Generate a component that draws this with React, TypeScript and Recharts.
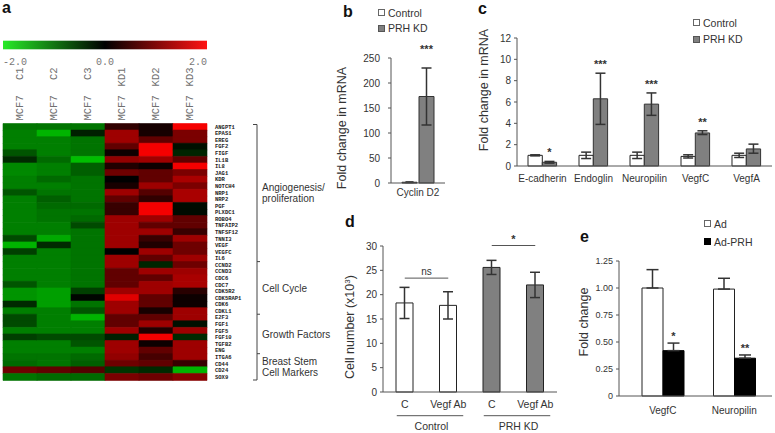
import React from "react";
import {
  Bar,
  BarChart,
  Cell,
  ErrorBar,
  LabelList,
  Legend,
  ReferenceLine,
  XAxis,
  YAxis,
} from "recharts";

const SANS = "'Liberation Sans', Arial, Helvetica, sans-serif";
const MONO = "'Liberation Mono', 'DejaVu Sans Mono', monospace";
const INK = "#333";
const AXIS = "#555";
const GREY_BAR = "#808080";

// ---------- a: microarray heat map ----------
const heatSamples = ["MCF7 C1", "MCF7 C2", "MCF7 C3", "MCF7 KD1", "MCF7 KD2", "MCF7 KD3"];
const heatGenes = [
  "ANGPT1", "EPAS1", "EREG", "FGF2", "FIGF", "IL1B", "IL8", "JAG1", "KDR", "NOTCH4",
  "NRP1", "NRP2", "PGF", "PLXDC1", "ROBO4", "TNFAIP2", "TNFSF12", "TNNI3", "VEGF", "VEGFC",
  "IL6", "CCND2", "CCND3", "CDC6", "CDC7", "CDK5R2", "CDK5RAP1", "CDK6", "CDKL1", "E2F3",
  "FGF1", "FGF5", "FGF10", "TGFB2", "ENG", "ITGA6", "CD44", "CD24", "SOX9",
];
// log2 ratios, rows follow heatGenes, columns follow heatSamples
const heatValues = [
  [-1.1, -1.1, -1.1, 0.25, 0.1, 1.9],
  [-1.2, -1.7, -0.3, 1.1, 0.1, 0.8],
  [-1.2, -1.2, -1.1, 1.1, 0.6, 0.8],
  [-1.2, -1.2, -1.1, 0.6, 1.9, -0.15],
  [-0.8, -1.2, -1.1, 0.05, 1.9, -0.35],
  [-0.4, -1.0, -1.8, 1.0, 1.1, 0.6],
  [-1.3, -1.2, -0.9, 0.15, 0.05, 1.9],
  [-1.3, -1.2, -0.9, 0.7, 0.6, 0.8],
  [-1.2, -1.0, -1.1, 0.0, 0.6, 1.2],
  [-1.2, -1.2, -1.1, 0.1, 1.1, 0.8],
  [-0.8, -1.1, -1.1, 1.1, 0.5, 1.2],
  [-1.2, -0.9, -1.1, 0.6, 0.25, 1.2],
  [-1.2, -1.0, -1.0, 0.3, 1.9, -0.1],
  [-1.2, -1.1, -1.1, 0.3, 1.9, -0.1],
  [-1.2, -1.1, -1.0, 1.1, 1.1, 0.6],
  [-1.2, -1.2, -0.7, 1.1, 0.6, 0.6],
  [-1.2, -1.2, -1.1, 1.1, 1.1, 0.3],
  [-0.7, -1.6, -1.1, 1.1, 0.3, 1.1],
  [-1.7, -0.4, -1.1, 1.1, 0.15, 0.7],
  [-0.6, -1.2, -1.1, 0.0, 1.1, 0.7],
  [-1.2, -1.2, -1.1, 1.1, 0.6, 1.1],
  [-1.2, -1.2, -1.1, 1.1, -0.35, 0.7],
  [-1.2, -1.2, -1.1, 0.6, 1.1, 1.1],
  [-1.2, -1.2, -1.1, 0.6, 0.6, 1.2],
  [-0.8, -1.2, -1.1, 0.6, 1.1, 1.2],
  [-1.4, -1.5, -0.6, 1.1, 1.1, 0.2],
  [-1.4, -1.5, -0.05, 1.7, 0.6, 0.05],
  [-0.4, -1.5, -1.1, 1.1, 0.6, 0.05],
  [-1.2, -1.2, -0.8, 1.1, 0.1, 1.1],
  [-0.7, -1.2, -1.7, 0.6, 0.6, 1.1],
  [-0.7, -1.2, -1.2, 0.6, 1.1, -0.15],
  [-1.2, -1.2, -1.2, 1.1, 0.15, 1.1],
  [-0.6, -0.7, -0.7, -0.3, 1.9, -0.4],
  [-1.2, -1.2, -0.8, 1.1, 0.05, 1.1],
  [-1.2, -1.2, -1.2, 1.1, 0.6, 1.1],
  [-1.1, -1.1, -1.0, 1.0, 0.4, 1.1],
  [-1.0, -1.1, -0.9, 0.7, 0.6, 0.3],
  [0.7, 0.6, 0.5, -0.5, -0.4, -1.7],
  [-1.1, -1.0, -1.0, 0.8, 0.7, 0.9],
];
const geneGroups = [
  { label: ["Angiogenesis/", "proliferation"], rows: 21 },
  { label: ["Cell Cycle"], rows: 8 },
  { label: ["Growth Factors"], rows: 6 },
  { label: ["Breast Stem", "Cell Markers"], rows: 4 },
];
const scaleTicks = [-2, 0, 2];

// ---------- b: Cyclin D2 ----------
const bCategories = ["Cyclin D2"];
const bControl = [1.5];
const bControlErr = [0.6];
const bKd = [173];
const bKdErr = [57];
const bStars = ["***"];
const bTicks = [0, 50, 100, 150, 200, 250];

// ---------- c: angiogenesis genes ----------
const cCategories = ["E-cadherin", "Endoglin", "Neuropilin", "VegfC", "VegfA"];
const cControl = [1.0, 1.0, 1.0, 0.9, 1.0];
const cControlErr = [0.05, 0.3, 0.3, 0.15, 0.2];
const cKd = [0.35, 6.3, 5.8, 3.1, 1.6];
const cKdErrLow = [0.08, 2.4, 1.05, 0.15, 0.4];
const cKdErrHigh = [0.08, 2.4, 1.05, 0.2, 0.45];
const cStars = ["*", "***", "***", "**", ""];
const cTicks = [0, 2, 4, 6, 8, 10, 12];

// ---------- d: cell number ----------
const dKeys = ["ctrl-c", "ctrl-v", "kd-c", "kd-v"];
const dLabels = ["C", "Vegf Ab", "C", "Vegf Ab"];
const dGroups = ["Control", "Control", "PRH KD", "PRH KD"];
const dValues = [18.3, 17.8, 25.6, 22.0];
const dErr = [3.2, 2.8, 1.45, 2.6];
const dFills = ["#ffffff", "#ffffff", GREY_BAR, GREY_BAR];
const dTicks = [0, 5, 10, 15, 20, 25, 30];
const dBrackets = [
  { from: "ctrl-c", to: "ctrl-v", level: 23.4, text: "ns" },
  { from: "kd-c", to: "kd-v", level: 30.1, text: "*" },
];

// ---------- e: adenovirus ----------
const eCategories = ["VegfC", "Neuropilin"];
const eAd = [1.0, 0.99];
const eAdErr = [0.17, 0.1];
const ePrh = [0.42, 0.35];
const ePrhErr = [0.07, 0.03];
const eStars = ["*", "**"];
const eTicks = [0, 0.25, 0.5, 0.75, 1, 1.25];

const heatColor = (v: number) => {
  const t = Math.min(Math.abs(v) / 2, 1);
  if (v >= 0) return `rgb(${Math.round(255 * Math.pow(t, 0.8))},0,0)`;
  return `rgb(0,${Math.round(235 * t * 0.9)},0)`;
};

const tickStyle = { fontSize: 10, fill: INK, fontFamily: SANS };

// category label on one line, never wrapped
const plainTick = (fontSize: number) => (props: any) => (
  <text
    x={props.x}
    y={props.y}
    dy="0.71em"
    textAnchor="middle"
    fontSize={fontSize}
    fill={INK}
    fontFamily={SANS}
  >
    {props.payload.value}
  </text>
);

type LegendItem = { label: string; fill: string; stroke: string };

const SwatchLegend = ({ items, rowH }: { items: LegendItem[]; rowH: number }) => (
  <div style={{ fontFamily: SANS, fontSize: 10.5, color: INK }}>
    {items.map((it) => (
      <div
        key={it.label}
        style={{ display: "flex", alignItems: "center", height: rowH, whiteSpace: "nowrap" }}
      >
        <span
          style={{
            display: "inline-block",
            width: 5,
            height: 5,
            background: it.fill,
            border: `1px solid ${it.stroke}`,
            marginRight: 3,
          }}
        />
        {it.label}
      </div>
    ))}
  </div>
);

// star above the upper end of the error bar
const starLabel = (values: number[], errs: number[], lift: number) => (props: any) => {
  const { x, y, width, height, index, value } = props;
  if (!value) return null;
  const unit = Number(height) / values[index];
  const errTop = Number(y) - errs[index] * unit;
  return (
    <text
      x={Number(x) + Number(width) / 2}
      y={errTop - lift}
      textAnchor="middle"
      fontSize={11}
      fontWeight={700}
      fill={INK}
      fontFamily={SANS}
    >
      {value}
    </text>
  );
};

// ---------- heat map ----------
const HEAT_W = 260;
const HEAT_H = 400;
const HEAT_M = { top: 63, right: 0, bottom: 20, left: 3 };
const HEAT_XAXIS_H = 60.5;
const HEAT_YAXIS_W = 53;
const heatTop = HEAT_M.top + HEAT_XAXIS_H;
const heatBottom = HEAT_H - HEAT_M.bottom;
const heatLeft = HEAT_M.left;
const heatRight = HEAT_W - HEAT_M.right - HEAT_YAXIS_W;

const SampleTick = (props: any) => {
  const { x, y, payload } = props;
  const name: string = heatSamples[Math.floor(payload.value)];
  const [head, ...rest] = name.split(" ");
  return (
    <g transform={`translate(${x},${y}) rotate(-90)`} fontFamily={MONO} fontSize={10.5} fill="#707070">
      <text x={0} y={0} dominantBaseline="central" textAnchor="start">
        {head}
      </text>
      <text x={53} y={0} dominantBaseline="central" textAnchor="end">
        {rest.join(" ")}
      </text>
    </g>
  );
};

function HeatmapPanel() {
  const data = heatGenes.map((gene) => {
    const row: Record<string, number | string> = { gene };
    heatSamples.forEach((_, j) => {
      row[`s${j}`] = 1;
    });
    return row;
  });
  return (
    <BarChart
      width={HEAT_W}
      height={HEAT_H}
      layout="vertical"
      data={data}
      margin={HEAT_M}
      barCategoryGap={0}
    >
      <XAxis
        type="number"
        orientation="top"
        domain={[0, heatSamples.length]}
        ticks={heatSamples.map((_, j) => j + 0.5)}
        interval={0}
        height={HEAT_XAXIS_H}
        axisLine={false}
        tickLine={false}
        tickSize={0}
        tickMargin={3}
        tick={SampleTick}
      />
      <YAxis
        type="category"
        dataKey="gene"
        orientation="right"
        width={HEAT_YAXIS_W}
        axisLine={false}
        tickLine={false}
        tickSize={6}
        tickMargin={2}
        interval={0}
        tick={{ fontSize: 5.5, fontFamily: MONO, fontWeight: 700, fill: "#222" }}
      />
      {heatSamples.map((s, j) => (
        <Bar key={s} dataKey={`s${j}`} stackId="heat" isAnimationActive={false}>
          {heatGenes.map((g, i) => {
            const fill = heatColor(heatValues[i][j]);
            return <Cell key={g} fill={fill} stroke={fill} strokeWidth={0.6} />;
          })}
        </Bar>
      ))}
    </BarChart>
  );
}

// ---------- b ----------
function PanelB() {
  const data = bCategories.map((name, i) => ({
    name,
    control: bControl[i],
    controlErr: bControlErr[i],
    kd: bKd[i],
    kdErr: bKdErr[i],
    star: bStars[i],
  }));
  return (
    <BarChart
      width={130}
      height={205}
      data={data}
      margin={{ top: 58, right: 15, bottom: 0, left: 0 }}
      barSize={15}
      barGap={2}
    >
      <XAxis
        dataKey="name"
        height={22}
        tickLine={false}
        tickSize={0}
        tickMargin={6}
        axisLine={{ stroke: AXIS }}
        tick={plainTick(10)}
      />
      <YAxis
        width={61}
        domain={[0, 250]}
        ticks={bTicks}
        interval={0}
        tickSize={3}
        tickMargin={8}
        axisLine={{ stroke: AXIS }}
        tickLine={{ stroke: AXIS }}
        tick={tickStyle}
      />
      <Legend
        layout="vertical"
        align="center"
        verticalAlign="middle"
        wrapperStyle={{ left: 48, top: 5, width: "auto" }}
        content={() => (
          <SwatchLegend
            rowH={15.6}
            items={[
              { label: "Control", fill: "#fff", stroke: "#666" },
              { label: "PRH KD", fill: GREY_BAR, stroke: "#555" },
            ]}
          />
        )}
      />
      <Bar dataKey="control" name="Control" fill="#fff" stroke="#222" isAnimationActive={false}>
        <ErrorBar dataKey="controlErr" width={4} stroke="#333" />
      </Bar>
      <Bar dataKey="kd" name="PRH KD" fill={GREY_BAR} stroke="#333" isAnimationActive={false}>
        <ErrorBar dataKey="kdErr" width={5} stroke="#333" />
        <LabelList dataKey="star" content={starLabel(bKd, bKdErr, 15)} />
      </Bar>
    </BarChart>
  );
}

// ---------- c ----------
function PanelC() {
  const data = cCategories.map((name, i) => ({
    name,
    control: cControl[i],
    controlErr: cControlErr[i],
    kd: cKd[i],
    kdErr: [cKdErrLow[i], cKdErrHigh[i]],
    star: cStars[i],
  }));
  return (
    <BarChart
      width={295}
      height={190}
      data={data}
      margin={{ top: 38, right: 3, bottom: 0, left: 0 }}
      barSize={14.3}
      barGap={0}
    >
      <XAxis
        dataKey="name"
        height={24}
        tickLine={false}
        tickSize={0}
        tickMargin={9}
        interval={0}
        axisLine={{ stroke: AXIS }}
        tick={plainTick(10)}
      />
      <YAxis
        width={37}
        domain={[0, 12]}
        ticks={cTicks}
        interval={0}
        tickSize={3}
        tickMargin={3}
        axisLine={{ stroke: AXIS }}
        tickLine={{ stroke: AXIS }}
        tick={tickStyle}
      />
      <Legend
        layout="vertical"
        align="center"
        verticalAlign="middle"
        wrapperStyle={{ left: 213, top: 14.4, width: "auto" }}
        content={() => (
          <SwatchLegend
            rowH={16.6}
            items={[
              { label: "Control", fill: "#fff", stroke: "#666" },
              { label: "PRH KD", fill: GREY_BAR, stroke: "#555" },
            ]}
          />
        )}
      />
      <Bar dataKey="control" name="Control" fill="#fff" stroke="#222" isAnimationActive={false}>
        <ErrorBar dataKey="controlErr" width={5} stroke="#333" />
      </Bar>
      <Bar dataKey="kd" name="PRH KD" fill={GREY_BAR} stroke="#333" isAnimationActive={false}>
        <ErrorBar dataKey="kdErr" width={5} stroke="#333" />
        <LabelList dataKey="star" content={starLabel(cKd, cKdErrHigh, 5)} />
      </Bar>
    </BarChart>
  );
}

// ---------- d ----------
const D_W = 240;
const D_M = { top: 51, right: 13, bottom: 0, left: 0 };
const D_YAXIS_W = 53;
const dBand = (D_W - D_M.right - D_M.left - D_YAXIS_W) / dKeys.length;

const DTick = (props: any) => {
  const { x, y, payload } = props;
  const i = dKeys.indexOf(payload.value);
  const first = i === 0 || dGroups[i] !== dGroups[i - 1];
  return (
    <g fontFamily={SANS} fill={INK}>
      <text x={x} y={y} dy="0.71em" textAnchor="middle" fontSize={10.5}>
        {dLabels[i]}
      </text>
      {first && (
        <>
          <line x1={x - 8} x2={x + dBand + 15} y1={y + 14.7} y2={y + 14.7} stroke="#555" />
          <text x={x + dBand / 2 + 5} y={y + 22} dy="0.71em" textAnchor="middle" fontSize={10.5}>
            {dGroups[i]}
          </text>
        </>
      )}
    </g>
  );
};

function PanelD() {
  const data = dKeys.map((key, i) => ({ key, value: dValues[i], err: dErr[i] }));
  return (
    <BarChart width={D_W} height={238} data={data} margin={D_M} barSize={17}>
      <XAxis
        dataKey="key"
        height={41}
        tickLine={false}
        tickSize={0}
        tickMargin={9}
        interval={0}
        axisLine={{ stroke: AXIS }}
        tick={DTick}
      />
      <YAxis
        width={D_YAXIS_W}
        domain={[0, 30]}
        ticks={dTicks}
        interval={0}
        tickSize={3}
        tickMargin={3}
        axisLine={{ stroke: AXIS }}
        tickLine={{ stroke: AXIS }}
        tick={tickStyle}
      />
      <Bar dataKey="value" stroke="#222" isAnimationActive={false}>
        {dKeys.map((k, i) => (
          <Cell key={k} fill={dFills[i]} />
        ))}
        <ErrorBar dataKey="err" width={5} stroke="#333" />
      </Bar>
      {dBrackets.map((b) => (
        <ReferenceLine
          key={b.text}
          segment={[
            { x: b.from, y: b.level },
            { x: b.to, y: b.level },
          ]}
          stroke="#555"
          ifOverflow="visible"
          label={{
            value: b.text,
            position: "top",
            offset: 3,
            fill: INK,
            fontSize: b.text === "*" ? 11 : 10,
            fontWeight: b.text === "*" ? 700 : 400,
            fontFamily: SANS,
          }}
        />
      ))}
    </BarChart>
  );
}

// ---------- e ----------
function PanelE() {
  const data = eCategories.map((name, i) => ({
    name,
    ad: eAd[i],
    adErr: [0, eAdErr[i]],
    prh: ePrh[i],
    prhErr: [0, ePrhErr[i]],
    star: eStars[i],
  }));
  return (
    <BarChart
      width={195}
      height={221}
      data={data}
      margin={{ top: 49, right: 3, bottom: 0, left: 0 }}
      barSize={21}
      barGap={0}
    >
      <XAxis
        dataKey="name"
        height={37}
        padding={{ left: 8, right: 2 }}
        tickLine={false}
        tickSize={0}
        tickMargin={11}
        interval={0}
        axisLine={{ stroke: AXIS }}
        tick={plainTick(10)}
      />
      <YAxis
        width={39}
        domain={[0, 1.25]}
        ticks={eTicks}
        interval={0}
        tickSize={3}
        tickMargin={3}
        axisLine={{ stroke: AXIS }}
        tickLine={{ stroke: AXIS }}
        tick={{ ...tickStyle, fontSize: 9 }}
        tickFormatter={(v: number) => (v === 0 ? "0" : v.toFixed(2))}
      />
      <Legend
        layout="vertical"
        align="center"
        verticalAlign="middle"
        wrapperStyle={{ left: 124, top: 3, width: "auto" }}
        content={() => (
          <SwatchLegend
            rowH={17.7}
            items={[
              { label: "Ad", fill: "#fff", stroke: "#666" },
              { label: "Ad-PRH", fill: "#000", stroke: "#000" },
            ]}
          />
        )}
      />
      <Bar dataKey="ad" name="Ad" fill="#fff" stroke="#222" isAnimationActive={false}>
        <ErrorBar dataKey="adErr" width={6} stroke="#333" />
      </Bar>
      <Bar dataKey="prh" name="Ad-PRH" fill="#000" stroke="#000" isAnimationActive={false}>
        <ErrorBar dataKey="prhErr" width={6} stroke="#333" />
        <LabelList dataKey="star" content={starLabel(ePrh, ePrhErr, 3)} />
      </Bar>
    </BarChart>
  );
}

// ---------- text and brackets outside the plots ----------
function Annotations() {
  const rowH = (heatBottom - heatTop) / heatGenes.length;
  const bracketX = 257;
  let start = 0;
  const groups = geneGroups.map((g) => {
    const y0 = heatTop + start * rowH;
    start += g.rows;
    const y1 = heatTop + start * rowH;
    return { ...g, y0, y1 };
  });
  const letter = { fontFamily: SANS, fontSize: 16, fontWeight: 700, fill: "#111" };
  const ylab = { fontFamily: SANS, fontSize: 12.5, fill: INK, textAnchor: "middle" as const };
  return (
    <svg
      width={775}
      height={433}
      style={{ position: "absolute", left: 0, top: 0, pointerEvents: "none" }}
    >
      <defs>
        <linearGradient id="heatScale" x1="0" x2="1" y1="0" y2="0">
          <stop offset="0" stopColor="#26ea26" />
          <stop offset="0.5" stopColor="#000" />
          <stop offset="1" stopColor="#ff1212" />
        </linearGradient>
      </defs>
      <rect x={heatLeft} y={40.7} width={heatRight - heatLeft} height={8.6} fill="url(#heatScale)" />
      {scaleTicks.map((v, i) => (
        <text
          key={v}
          x={heatLeft + ((v + 2) / 4) * (heatRight - heatLeft)}
          y={65.3}
          textAnchor={i === 0 ? "start" : i === scaleTicks.length - 1 ? "end" : "middle"}
          fontFamily={MONO}
          fontSize={10}
          fill="#777"
        >
          {v.toFixed(1)}
        </text>
      ))}

      <text x={2} y={13} {...letter}>a</text>
      <text x={343} y={17} {...letter}>b</text>
      <text x={478} y={14} {...letter}>c</text>
      <text x={345} y={227} {...letter}>d</text>
      <text x={580} y={242} {...letter}>e</text>

      <text transform="translate(346,128) rotate(-90)" {...ylab}>Fold change in mRNA</text>
      <text transform="translate(488,90) rotate(-90)" {...ylab}>Fold change in mRNA</text>
      <text transform="translate(354,327) rotate(-90)" {...ylab}>
        Cell number (x10
        <tspan dy={-4} fontSize={8}>3</tspan>
        <tspan dy={4}>)</tspan>
      </text>
      <text transform="translate(588,322) rotate(-90)" {...ylab}>Fold change</text>

      <g stroke="#444" strokeWidth={1} fill="none">
        <line x1={bracketX} x2={bracketX} y1={heatTop + 1} y2={heatBottom} />
        <line x1={bracketX - 4} x2={bracketX} y1={heatTop + 1} y2={heatTop + 1} />
        <line x1={bracketX - 4} x2={bracketX} y1={heatBottom} y2={heatBottom} />
        {groups.slice(0, -1).map((g) => (
          <line key={g.label[0]} x1={bracketX} x2={bracketX + 3} y1={g.y1} y2={g.y1} />
        ))}
      </g>
      {groups.map((g) => {
        const mid = (g.y0 + g.y1) / 2;
        const lineH = 11;
        const first = mid - ((g.label.length - 1) * lineH) / 2;
        return (
          <text key={g.label[0]} fontFamily={SANS} fontSize={10} fill={INK}>
            {g.label.map((l, k) => (
              <tspan key={l} x={262} y={first + k * lineH + 3.6}>
                {l}
              </tspan>
            ))}
          </text>
        );
      })}
    </svg>
  );
}

export default function App() {
  return (
    <div
      style={{
        position: "absolute",
        left: 0,
        top: 0,
        width: 775,
        height: 433,
        background: "#fff",
        fontFamily: SANS,
        overflow: "hidden",
      }}
    >
      <div style={{ position: "absolute", left: 0, top: 0 }}>
        <HeatmapPanel />
      </div>
      <div style={{ position: "absolute", left: 330, top: 0 }}>
        <PanelB />
      </div>
      <div style={{ position: "absolute", left: 480, top: 0 }}>
        <PanelC />
      </div>
      <div style={{ position: "absolute", left: 330, top: 195 }}>
        <PanelD />
      </div>
      <div style={{ position: "absolute", left: 580, top: 212 }}>
        <PanelE />
      </div>
      <Annotations />
    </div>
  );
}
